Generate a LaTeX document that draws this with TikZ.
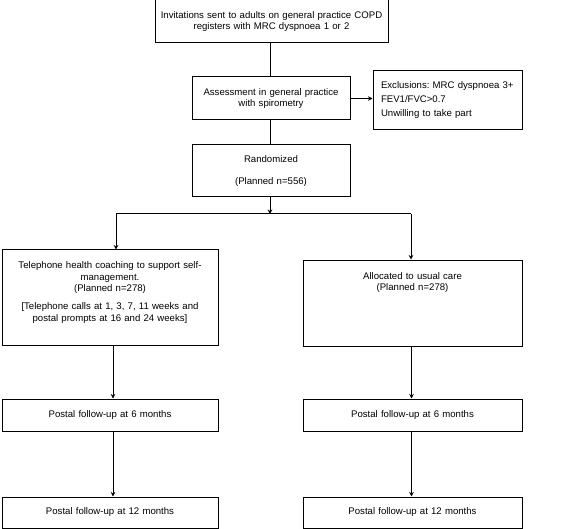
\documentclass[tikz,border=0pt]{standalone}
\usepackage{fontspec}
\setmainfont{Liberation Sans}
\usetikzlibrary{arrows.meta}
\frenchspacing

\begin{document}
\begin{tikzpicture}[x=1pt,y=-1pt,>={Stealth[length=1.6mm,width=1.6mm]},
  box/.style={draw,line width=1pt,inner sep=0pt,align=center,font=\fontsize{9.6}{11.5}\selectfont},
  link/.style={line width=1pt}]
  \useasboundingbox (0,0) rectangle (567,529);
  \node[box,minimum width=233pt,minimum height=43pt,text width=225pt] (invite) at (271.5,21.5) {Invitations sent to adults on general practice COPD\\registers with MRC dyspnoea 1 or 2};
  \node[box,minimum width=158pt,minimum height=43pt,text width=150pt] (assess) at (271,98.5) {Assessment in general practice\\with spirometry};
  \node[box,minimum width=149pt,minimum height=59pt,text width=133pt,align=left,font=\fontsize{9.6}{14}\selectfont] (excl) at (447.5,100.5) {Exclusions: MRC dyspnoea 3+\\FEV1/FVC>0.7\\Unwilling to take part};
  \node[box,minimum width=158pt,minimum height=52pt,text width=150pt] (rand) at (271,171) {Randomized\\[11pt](Planned n=556)};
  \node[box,minimum width=216pt,minimum height=95pt,text width=210pt] (coach) at (110,297.5) {Telephone health coaching to support self-\\management.\\(Planned n=278)\\[6.5pt]{[}Telephone calls at 1, 3, 7, 11 weeks and\\postal prompts at 16 and 24 weeks]\\\mbox{}};
  \node[box,minimum width=219pt,minimum height=86pt,text width=210pt] (usual) at (412.5,303) {Allocated to usual care\\(Planned n=278)\\[31.5pt]\mbox{}};
  \node[box,minimum width=216pt,minimum height=32pt,text width=210pt] (sixL) at (110,415) {Postal follow-up at 6 months};
  \node[box,minimum width=219pt,minimum height=32pt,text width=210pt] (sixR) at (412.5,415) {Postal follow-up at 6 months};
  \node[box,minimum width=216pt,minimum height=31pt,text width=210pt] (twelveL) at (110,512.5) {Postal follow-up at 12 months};
  \node[box,minimum width=219pt,minimum height=31pt,text width=210pt] (twelveR) at (412.5,512.5) {Postal follow-up at 12 months};
  \coordinate (split) at (270,214);
  \coordinate (splitL) at (116,214);
  \coordinate (splitR) at (411,214);
  \draw[link] ([xshift=-1.5pt]invite.south) -- ([xshift=-1pt]assess.north);
  \draw[link,->] (assess.east) -- (excl.west |- assess.east);
  \draw[link] ([xshift=-1pt]assess.south) -- ([xshift=-1pt]rand.north);
  \draw[link,->] ([xshift=-1pt]rand.south) -- (split);
  \draw[link] (splitL) -- (splitR);
  \draw[link,->] (splitL) -- (splitL |- coach.north);
  \draw[link,->] (splitR) -- (splitR |- usual.north);
  \draw[link,->] ([xshift=3pt]coach.south) -- ([xshift=3pt]sixL.north);
  \draw[link,->] ([xshift=3pt]sixL.south) -- ([xshift=3pt]twelveL.north);
  \draw[link,->] ([xshift=-1pt]usual.south) -- ([xshift=-1pt]sixR.north);
  \draw[link,->] ([xshift=-1pt]sixR.south) -- ([xshift=-1pt]twelveR.north);
\end{tikzpicture}
\end{document}
